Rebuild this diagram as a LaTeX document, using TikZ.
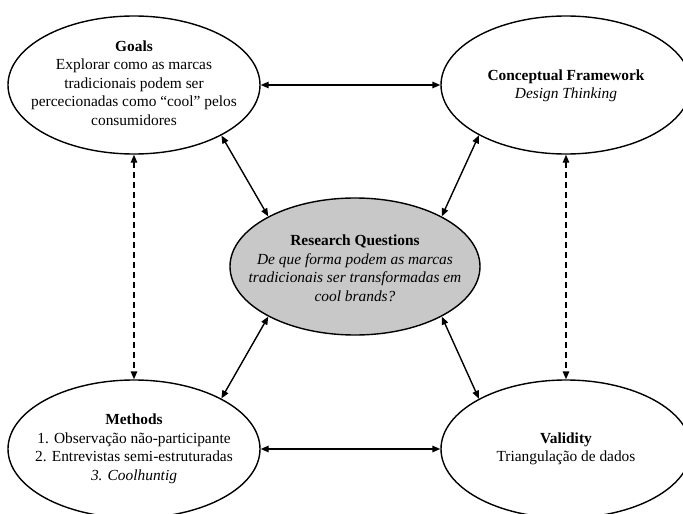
\documentclass[tikz,border=0pt]{standalone}
\usepackage{fontspec}
\setmainfont{Liberation Serif}
\usetikzlibrary{shapes.geometric,arrows.meta}
\definecolor{rqgray}{RGB}{200,200,200}
\begin{document}
\begin{tikzpicture}[x=1pt,y=-1pt,
  ell/.style={draw=black,line width=1.4pt,ellipse,inner sep=0pt},
  txt/.style={align=center,inner sep=0pt,font=\fontsize{15.4}{18.5}\selectfont},
  link/.style={line width=1.4pt,{Triangle[length=8pt,width=6.5pt]}-{Triangle[length=8pt,width=6.5pt]}},
  dlink/.style={link,dash pattern=on 6pt off 4pt}]
\useasboundingbox (0,0) rectangle (683,514);
\clip (0,0) rectangle (683,514);
\node[ell,minimum width=252pt,minimum height=138pt] (goals) at (134,85) {};
\node[ell,minimum width=250pt,minimum height=138pt] (cf) at (566,85) {};
\node[ell,fill=rqgray,minimum width=250pt,minimum height=137pt] (rq) at (355,266.5) {};
\node[ell,minimum width=252pt,minimum height=138pt] (meth) at (134,449) {};
\node[ell,minimum width=250pt,minimum height=138pt] (val) at (566,449) {};
\node[txt] (goalsT) at (134,83) {\textbf{Goals}\\Explorar como as marcas\\tradicionais podem ser\\percecionadas como “cool” pelos\\consumidores};
\node[txt] (cfT) at (566,86) {\textbf{Conceptual Framework}\\\textit{Design Thinking}};
\node[txt] (rqT) at (355,268.5) {\textbf{Research Questions}\\\textit{De que forma podem as marcas}\\\textit{tradicionais ser transformadas em}\\\textit{cool brands?}};
\node[txt] (methT) at (134,449) {\textbf{Methods}\\1. Observação não-participante\\2. Entrevistas semi-estruturadas\\\textit{3. Coolhuntig}};
\node[txt] (valT) at (566,449) {\textbf{Validity}\\Triangulação de dados};
\draw[link] (goals.east) -- (cf.west);
\draw[link] (meth.east) -- (val.west);
\draw[dlink] (goals.south) -- (meth.north);
\draw[dlink] (cf.south) -- (val.north);
\draw[link] (goals.-30) -- (rq.150);
\draw[link] (cf.210) -- (rq.30);
\draw[link] (meth.30) -- (rq.210);
\draw[link] (val.150) -- (rq.-30);
\end{tikzpicture}
\end{document}
